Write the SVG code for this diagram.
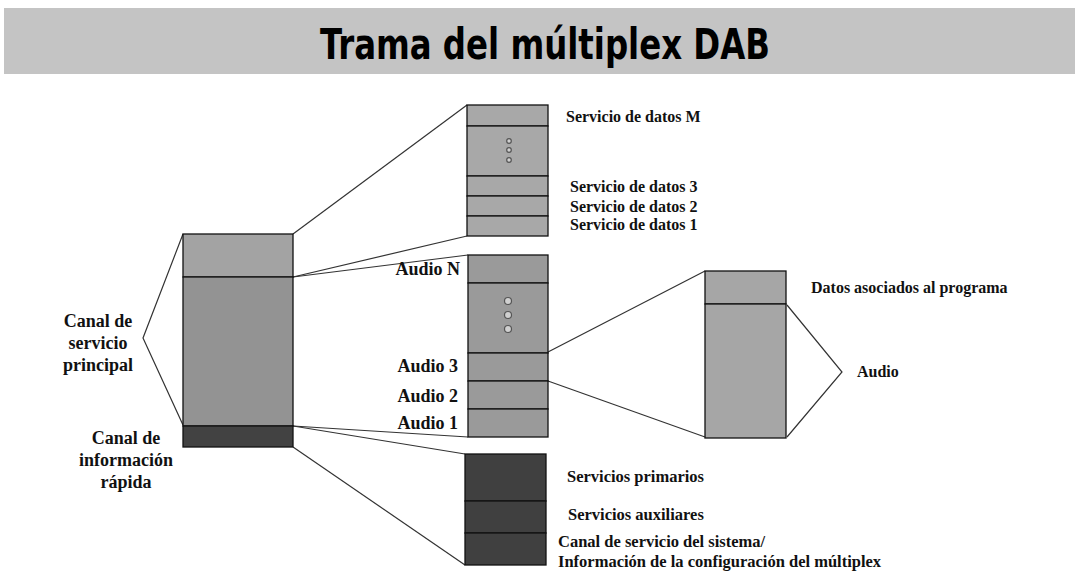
<svg xmlns="http://www.w3.org/2000/svg" width="1075" height="571" viewBox="0 0 1075 571">
<style>
.lbl{font-family:"Liberation Serif","Times New Roman",serif;font-weight:bold;font-size:16px;fill:#111}
.big{font-size:18px}
.mid{font-size:16.5px}
.box{stroke:#111;stroke-width:1.3}
.conn{stroke:#333;stroke-width:1.2;fill:none}
.dot{fill:#d0d0d0;stroke:#555;stroke-width:1.2}
</style>
<rect x="4" y="8" width="1071" height="66" fill="#c4c4c4"/>
<text x="545" y="59" text-anchor="middle" font-family="'DejaVu Sans Condensed','DejaVu Sans',sans-serif" font-size="43" font-weight="bold" fill="#000" textLength="450" lengthAdjust="spacingAndGlyphs">Trama del múltiplex DAB</text>

<g id="connectors">
<polyline class="conn" points="183,234 143,338 183,425"/>
<line class="conn" x1="293" y1="234" x2="467" y2="105"/>
<line class="conn" x1="293" y1="277" x2="467" y2="236"/>
<line class="conn" x1="293" y1="277" x2="468" y2="255"/>
<line class="conn" x1="293" y1="426" x2="468" y2="437"/>
<line class="conn" x1="293" y1="426" x2="465" y2="454"/>
<line class="conn" x1="293" y1="447" x2="465" y2="565"/>
<line class="conn" x1="548" y1="352" x2="705" y2="271"/>
<line class="conn" x1="548" y1="381" x2="705" y2="437"/>
<polyline class="conn" points="787,305 842,372 787,437"/>
</g>

<g id="main-frame">
<rect class="box" x="183" y="234" width="110" height="43" fill="#a3a3a3"/>
<rect class="box" x="183" y="277" width="110" height="149" fill="#939393"/>
<rect class="box" x="183" y="426" width="110" height="21" fill="#424242"/>
</g>
<g id="label-msc">
<text class="lbl big" x="98" y="327" text-anchor="middle">Canal de</text>
<text class="lbl big" x="98" y="349" text-anchor="middle">servicio</text>
<text class="lbl big" x="98" y="371" text-anchor="middle">principal</text>
</g>
<g id="label-fic">
<text class="lbl big" x="126" y="444" text-anchor="middle">Canal de</text>
<text class="lbl big" x="126" y="466" text-anchor="middle">información</text>
<text class="lbl big" x="126" y="488" text-anchor="middle">rápida</text>
</g>

<g id="data-stack">
<rect class="box" x="467" y="105" width="81" height="21" fill="#a8a8a8"/>
<rect class="box" x="467" y="126" width="81" height="50" fill="#a8a8a8"/>
<rect class="box" x="467" y="176" width="81" height="20" fill="#a8a8a8"/>
<rect class="box" x="467" y="196" width="81" height="20" fill="#a8a8a8"/>
<rect class="box" x="467" y="216" width="81" height="20" fill="#a8a8a8"/>
<circle class="dot" cx="509" cy="141" r="2.3"/>
<circle class="dot" cx="509" cy="150" r="2.3"/>
<circle class="dot" cx="509" cy="160" r="2.3"/>
<text class="lbl" x="566" y="122">Servicio de datos M</text>
<text class="lbl" x="570" y="192">Servicio de datos 3</text>
<text class="lbl" x="570" y="212">Servicio de datos 2</text>
<text class="lbl" x="570" y="230">Servicio de datos 1</text>
</g>

<g id="audio-stack">
<rect class="box" x="468" y="255" width="80" height="28" fill="#9a9a9a"/>
<rect class="box" x="468" y="283" width="80" height="70" fill="#9a9a9a"/>
<rect class="box" x="468" y="353" width="80" height="28" fill="#9a9a9a"/>
<rect class="box" x="468" y="381" width="80" height="28" fill="#9a9a9a"/>
<rect class="box" x="468" y="409" width="80" height="28" fill="#9a9a9a"/>
<circle class="dot" cx="508" cy="301" r="3.5"/>
<circle class="dot" cx="508" cy="315" r="3.5"/>
<circle class="dot" cx="508" cy="329" r="3.5"/>
<text class="lbl big" x="460" y="275" text-anchor="end">Audio N</text>
<text class="lbl big" x="458" y="372" text-anchor="end">Audio 3</text>
<text class="lbl big" x="458" y="402" text-anchor="end">Audio 2</text>
<text class="lbl big" x="458" y="429" text-anchor="end">Audio 1</text>
</g>

<g id="fic-stack">
<rect class="box" x="465" y="454" width="81" height="47" fill="#404040"/>
<rect class="box" x="465" y="501" width="81" height="32" fill="#404040"/>
<rect class="box" x="465" y="533" width="81" height="32" fill="#404040"/>
<text class="lbl mid" x="567" y="482">Servicios primarios</text>
<text class="lbl mid" x="568" y="520">Servicios auxiliares</text>
<text class="lbl mid" x="558" y="547">Canal de servicio del sistema/</text>
<text class="lbl mid" x="558" y="567">Información de la configuración del múltiplex</text>
</g>

<g id="audio-frame">
<rect class="box" x="705" y="271" width="81" height="33" fill="#a6a6a6"/>
<rect class="box" x="705" y="304" width="81" height="134" fill="#a6a6a6"/>
<text class="lbl" x="811" y="293">Datos asociados al programa</text>
<text class="lbl" x="857" y="377">Audio</text>
</g>
</svg>
